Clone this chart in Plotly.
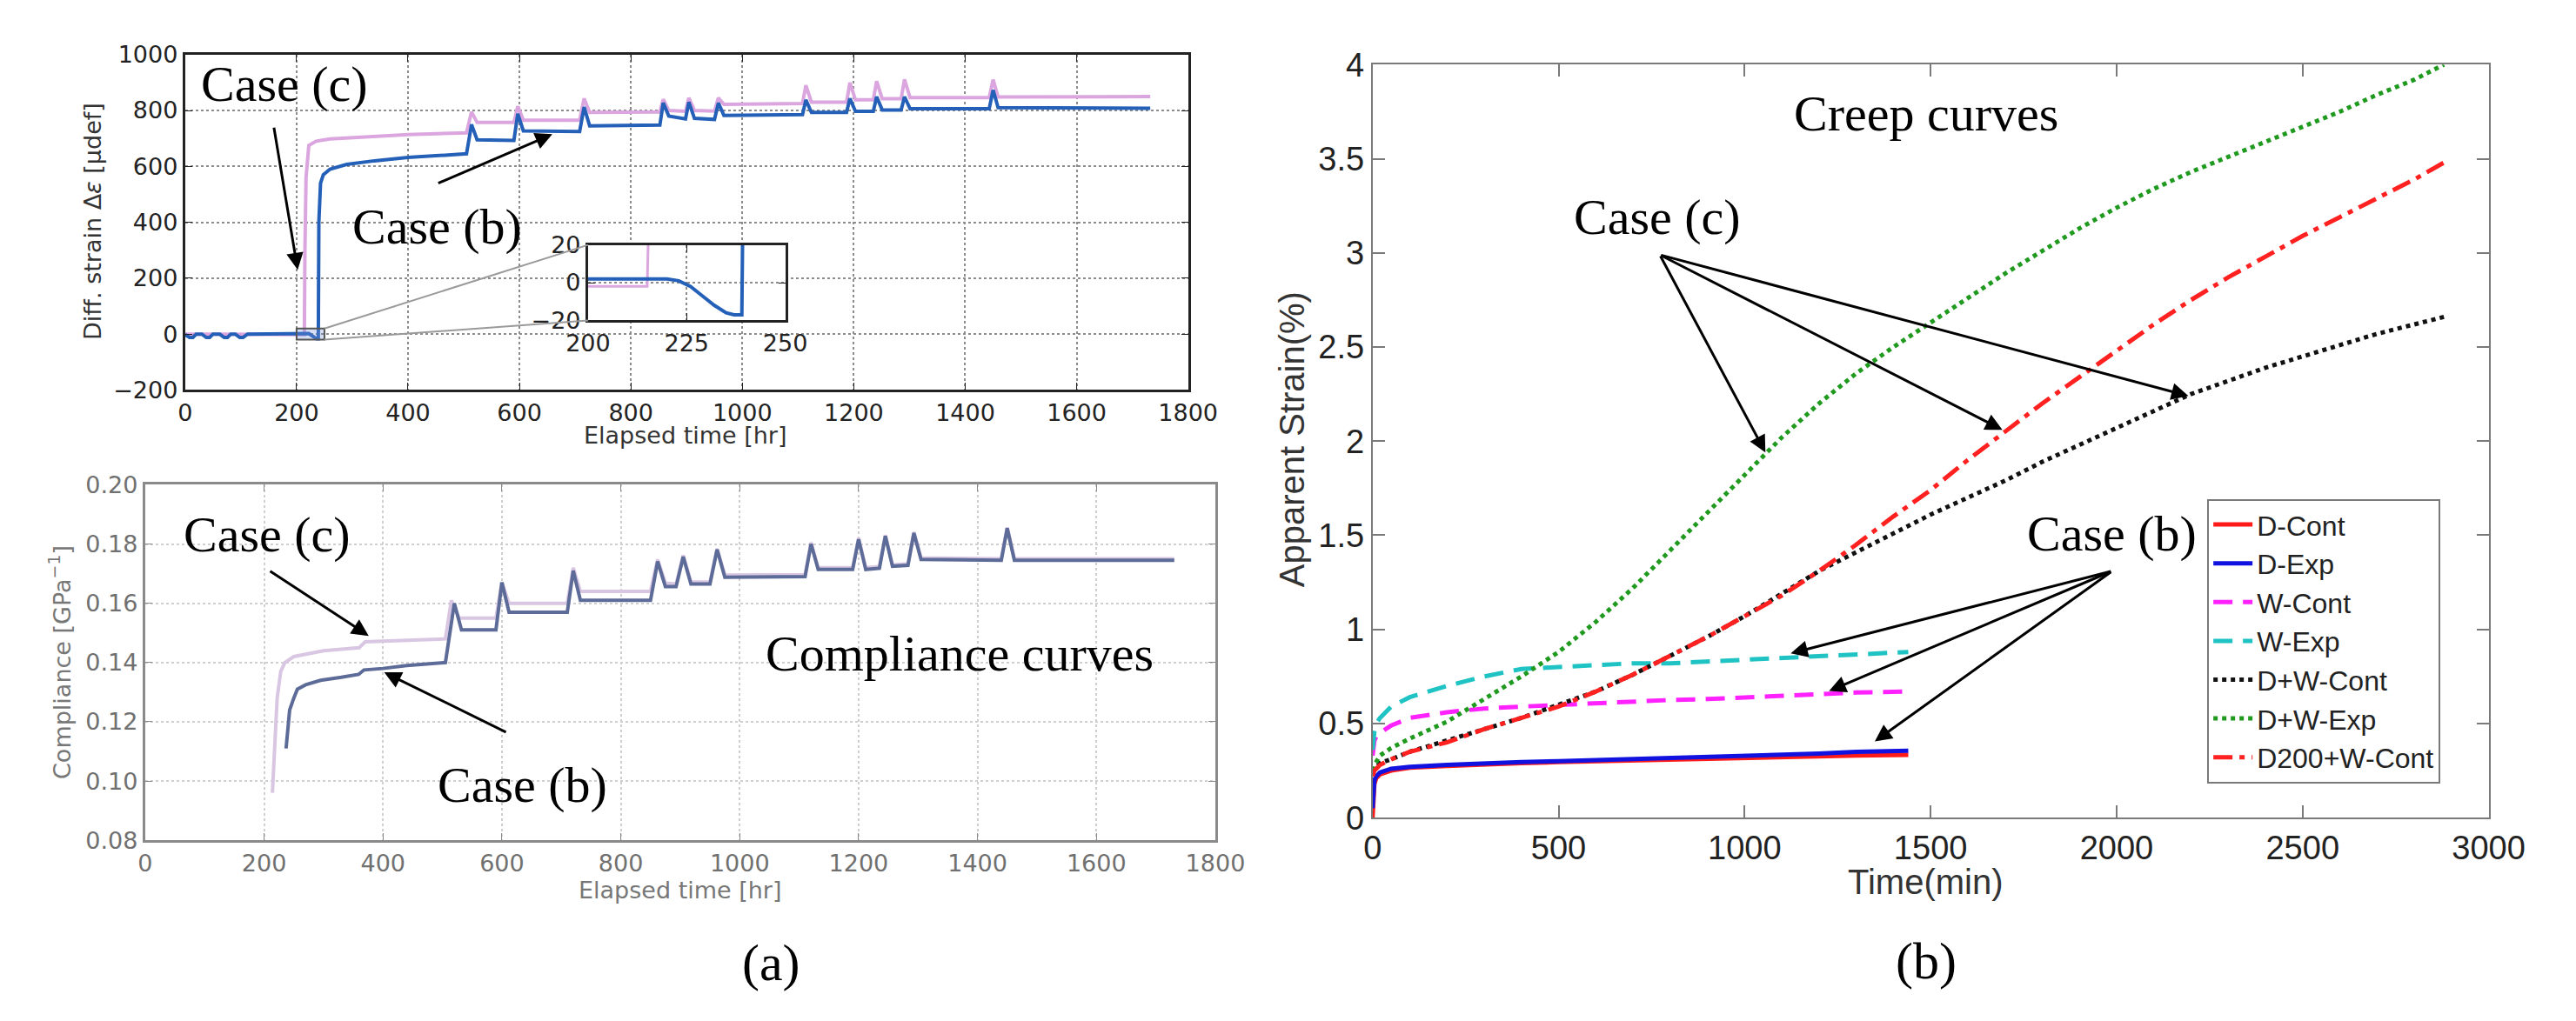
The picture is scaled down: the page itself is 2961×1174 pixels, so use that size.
import plotly.graph_objects as go

W, H = 2961, 1174

# ---------------- (a) top: differential strain vs elapsed time ----------------
strain_b_t = [0, 8, 14, 20, 30, 38, 44, 50, 62, 70, 76, 82, 90, 98, 104, 112, 222, 230, 236, 239,
              240, 243, 248, 260, 290, 340, 400, 450, 505, 514, 524, 590, 597, 607, 708, 716, 726,
              852, 858, 868, 898, 904, 914, 950, 957, 967, 1108, 1114, 1124, 1187, 1193, 1203,
              1235, 1241, 1251, 1285, 1291, 1301, 1443, 1450, 1459, 1732]
strain_b_v = [-2, -12, -12, 0, 0, -12, -12, 0, 0, -12, -12, 0, 0, -12, -12, 0, 2, -8, -17, -17,
              400, 540, 570, 590, 607, 620, 632, 638, 645, 750, 695, 693, 788, 727, 725, 812, 745,
              748, 827, 780, 770, 830, 772, 768, 827, 782, 785, 838, 793, 793, 843, 797,
              797, 849, 802, 802, 849, 806, 806, 873, 810, 808]

strain_c_t = [0, 214, 215, 217, 222, 235, 260, 300, 350, 400, 505, 514, 524, 590, 597, 607, 708,
              716, 726, 852, 858, 868, 898, 904, 914, 950, 957, 967, 1108, 1114, 1124, 1187, 1193,
              1203, 1235, 1241, 1251, 1285, 1291, 1301, 1443, 1450, 1459, 1732]
strain_c_v = [0, -2, 300, 560, 675, 690, 698, 702, 708, 714, 720, 795, 757, 757, 815, 765, 765,
              843, 793, 795, 840, 800, 797, 845, 800, 798, 845, 822, 825, 890, 830, 830, 899,
              838, 838, 905, 842, 842, 911, 846, 846, 910, 848, 850]

# inset (zoom of 200-250 hr)
inset_b_t = [200, 210, 220, 223, 226, 229, 232, 235, 237, 239, 239.2]
inset_b_v = [2, 2, 2, 1, -2, -7, -12, -16, -17, -17, 25]
inset_c_t = [200, 208, 215, 215.3]
inset_c_v = [-2, -2, -2, 25]

# ---------------- (a) bottom: compliance vs elapsed time ----------------
comp_b_t = [237, 240, 243, 250, 256, 270, 295, 330, 359, 368, 400, 440, 505, 520, 532, 590, 600,
            612, 710, 720, 732, 850, 862, 875, 893, 905, 918, 950, 962, 975, 1110, 1120, 1132,
            1190, 1200, 1212, 1235, 1245, 1257, 1283, 1293, 1305, 1440, 1450, 1462, 1731]
comp_b_v = [0.111, 0.118, 0.124, 0.128, 0.131, 0.1325, 0.134, 0.135, 0.136, 0.1375, 0.138, 0.139,
            0.140, 0.160, 0.151, 0.151, 0.167, 0.157, 0.157, 0.171, 0.161, 0.161, 0.1741, 0.1656,
            0.1656, 0.1757, 0.1665, 0.1665, 0.1781, 0.1688, 0.1690, 0.180, 0.1714, 0.1714, 0.1816,
            0.1714, 0.1718, 0.1827, 0.1725, 0.1728, 0.1837, 0.1748, 0.1745, 0.1853, 0.1745, 0.1745]

comp_c_t = [214, 218, 222, 228, 235, 250, 300, 360, 370, 505, 515, 528, 590, 600, 612, 710, 720,
            732, 850, 862, 875, 893, 905, 918, 950, 962, 975, 1110, 1120, 1132, 1190, 1200, 1212,
            1235, 1245, 1257, 1283, 1293, 1305, 1440, 1450, 1462, 1731]
comp_c_v = [0.096, 0.110, 0.128, 0.137, 0.140, 0.142, 0.144, 0.145, 0.147, 0.148, 0.161, 0.155,
            0.155, 0.167, 0.160, 0.160, 0.172, 0.164, 0.164, 0.1748, 0.1668, 0.1665, 0.1762,
            0.1672, 0.1672, 0.1784, 0.1695, 0.1697, 0.1805, 0.1720, 0.1720, 0.1820, 0.1720,
            0.1724, 0.1830, 0.1730, 0.1733, 0.1840, 0.1753, 0.1750, 0.1856, 0.1750, 0.1750]

# ---------------- (b) creep curves ----------------
t_short = [0, 2, 5, 10, 20, 50, 100, 200, 300, 400, 500, 600, 700, 800, 900, 1000, 1100, 1200,
           1300, 1440]
d_cont = [0.0, 0.12, 0.18, 0.21, 0.23, 0.25, 0.265, 0.275, 0.285, 0.29, 0.295, 0.30, 0.305, 0.31,
          0.315, 0.32, 0.323, 0.327, 0.33, 0.333]
d_exp = [0.05, 0.15, 0.20, 0.22, 0.24, 0.26, 0.27, 0.28, 0.29, 0.295, 0.30, 0.305, 0.31, 0.315,
         0.32, 0.325, 0.33, 0.34, 0.35, 0.355]
w_cont = [0.33, 0.38, 0.41, 0.43, 0.45, 0.49, 0.53, 0.56, 0.58, 0.59, 0.60, 0.61, 0.62, 0.625,
          0.63, 0.64, 0.65, 0.66, 0.665, 0.67]
w_exp = [0.36, 0.42, 0.46, 0.50, 0.53, 0.59, 0.64, 0.70, 0.75, 0.79, 0.80, 0.81, 0.82, 0.82, 0.83,
         0.84, 0.85, 0.86, 0.87, 0.88]

t_long = [0, 5, 20, 50, 100, 200, 300, 400, 500, 600, 700, 800, 900, 1000, 1100, 1200, 1300,
          1400, 1500, 1600, 1700, 1800, 1900, 2000, 2100, 2200, 2300, 2400, 2500, 2600, 2700,
          2800, 2880]
dw_cont = [0.24, 0.26, 0.29, 0.31, 0.35, 0.41, 0.47, 0.53, 0.60, 0.67, 0.76, 0.86, 0.96, 1.07,
           1.19, 1.31, 1.41, 1.51, 1.61, 1.70, 1.79, 1.89, 1.98, 2.07, 2.16, 2.25, 2.32, 2.39,
           2.45, 2.51, 2.57, 2.62, 2.66]
dw_exp = [0.25, 0.28, 0.33, 0.37, 0.42, 0.51, 0.63, 0.75, 0.88, 1.04, 1.22, 1.42, 1.62, 1.82,
          2.02, 2.20, 2.36, 2.50, 2.63, 2.76, 2.89, 3.01, 3.13, 3.24, 3.34, 3.43, 3.51, 3.59,
          3.67, 3.75, 3.84, 3.92, 4.00]
d200w_cont = [0.22, 0.25, 0.28, 0.31, 0.35, 0.40, 0.47, 0.53, 0.59, 0.67, 0.76, 0.86, 0.96, 1.07,
              1.18, 1.31, 1.45, 1.60, 1.74, 1.90, 2.05, 2.20, 2.34, 2.48, 2.62, 2.75, 2.87, 2.98,
              3.09, 3.19, 3.29, 3.39, 3.48]

creep_names = ["D-Cont", "D-Exp", "W-Cont", "W-Exp", "D+W-Cont", "D+W-Exp", "D200+W-Cont"]


def px_x(p):
    return p / W


def px_y(p):
    return 1 - p / H


TOP_X, TOP_Y = [px_x(183), px_x(1363)], [px_y(435), px_y(35)]
INS_X, INS_Y = [px_x(657), px_x(889)], [px_y(352), px_y(262)]
BOT_X, BOT_Y = [px_x(136), px_x(1395)], [px_y(972), px_y(548)]
RGT_X, RGT_Y = [px_x(1580), px_x(2893)], [px_y(945), px_y(47)]

MPL = "DejaVu Sans"
ARIAL = "Liberation Sans"
TIMES = "Liberation Serif"

fig = go.Figure()

# top panel
fig.add_trace(go.Scatter(x=strain_c_t, y=strain_c_v, mode="lines", xaxis="x", yaxis="y",
                         line=dict(color="#dba6df", width=4), showlegend=False))
fig.add_trace(go.Scatter(x=strain_b_t, y=strain_b_v, mode="lines", xaxis="x", yaxis="y",
                         line=dict(color="#2460b8", width=4), showlegend=False))
# inset
fig.add_trace(go.Scatter(x=inset_c_t, y=inset_c_v, mode="lines", xaxis="x2", yaxis="y2",
                         line=dict(color="#dba6df", width=3), showlegend=False))
fig.add_trace(go.Scatter(x=inset_b_t, y=inset_b_v, mode="lines", xaxis="x2", yaxis="y2",
                         line=dict(color="#2460b8", width=4), showlegend=False))
# bottom panel
fig.add_trace(go.Scatter(x=comp_c_t, y=comp_c_v, mode="lines", xaxis="x3", yaxis="y3",
                         line=dict(color="#d8c6e2", width=4), showlegend=False))
fig.add_trace(go.Scatter(x=comp_b_t, y=comp_b_v, mode="lines", xaxis="x3", yaxis="y3",
                         line=dict(color="#5d6b98", width=4), showlegend=False))

# creep curves
creep = [
    (t_short, d_cont, "#ff1a1a", "solid"),
    (t_short, d_exp, "#1212e0", "solid"),
    (t_short, w_cont, "#ff22ff", "22px,12px"),
    (t_short, w_exp, "#1fc3c3", "22px,12px"),
    (t_long, dw_cont, "#111111", "dot"),
    (t_long, dw_exp, "#1f9a1f", "dot"),
    (t_long, d200w_cont, "#ff2020", "22px,8px,6px,8px"),
]
for name, (tx, vy, col, dash) in zip(creep_names, creep):
    fig.add_trace(go.Scatter(x=tx, y=vy, mode="lines", name=name, xaxis="x4", yaxis="y4",
                             line=dict(color=col, width=5, dash=dash)))

grid_top = dict(showgrid=True, gridcolor="#8c8c8c", griddash="dot", gridwidth=2,
                showline=True, linecolor="#222", linewidth=3, mirror="ticks",
                ticks="inside", ticklen=8, tickcolor="#222", zeroline=False,
                tickfont=dict(family=MPL, size=27, color="#222"))
grid_bot = dict(showgrid=True, gridcolor="#cfcfcf", griddash="dot", gridwidth=2,
                showline=True, linecolor="#8a8a8a", linewidth=3, mirror="ticks",
                ticks="inside", ticklen=8, tickcolor="#8a8a8a", zeroline=False,
                tickfont=dict(family=MPL, size=27, color="#707070"))
box_rgt = dict(showgrid=False, showline=True, linecolor="#7a7a7a", linewidth=2,
               mirror="ticks", ticks="inside", ticklen=14, tickwidth=2, tickcolor="#7a7a7a",
               zeroline=False, tickfont=dict(family=ARIAL, size=38, color="#222"))

fig.update_layout(
    width=W, height=H, autosize=False,
    margin=dict(l=0, r=0, t=0, b=0),
    paper_bgcolor="white", plot_bgcolor="white",
    xaxis=dict(domain=TOP_X, anchor="y", range=[0, 1800],
               tickvals=list(range(0, 1801, 200)), **grid_top),
    yaxis=dict(domain=TOP_Y, anchor="x", range=[-200, 1000],
               tickvals=list(range(-200, 1001, 200)), **grid_top),
    xaxis2=dict(domain=INS_X, anchor="y2", range=[200, 250], tickvals=[200, 225, 250],
                **grid_top),
    yaxis2=dict(domain=INS_Y, anchor="x2", range=[-20, 20], tickvals=[-20, 0, 20],
                **grid_top),
    xaxis3=dict(domain=BOT_X, anchor="y3", range=[0, 1800],
                tickvals=list(range(0, 1801, 200)), **grid_bot),
    yaxis3=dict(domain=BOT_Y, anchor="x3", range=[0.08, 0.20], tickformat=".2f",
                tickvals=[0.08, 0.10, 0.12, 0.14, 0.16, 0.18, 0.20], **grid_bot),
    xaxis4=dict(domain=RGT_X, anchor="y4", range=[0, 3000], dtick=500, **box_rgt),
    yaxis4=dict(domain=RGT_Y, anchor="x4", range=[0, 4], dtick=0.5, **box_rgt),
    legend=dict(x=px_x(2562), y=px_y(565), xanchor="left", yanchor="top",
                bgcolor="white", bordercolor="#7a7a7a", borderwidth=2,
                font=dict(family=ARIAL, size=32, color="#222"), tracegroupgap=0,
                itemwidth=45),
    showlegend=True,
)


# zoom marker and connector lines for the inset
def paper_to_top(xp, yp):
    t = (xp - TOP_X[0]) / (TOP_X[1] - TOP_X[0]) * 1800
    v = -200 + (yp - TOP_Y[0]) / (TOP_Y[1] - TOP_Y[0]) * 1200
    return t, v


c_top = paper_to_top(INS_X[0], INS_Y[1])
c_bot = paper_to_top(INS_X[0], INS_Y[0])
fig.add_shape(type="rect", xref="x", yref="y", x0=200, x1=250, y0=-20, y1=20,
              line=dict(color="#555", width=2), fillcolor="rgba(120,150,220,0.3)")
fig.add_shape(type="line", xref="x", yref="y", x0=250, y0=20, x1=c_top[0], y1=c_top[1],
              line=dict(color="#9a9a9a", width=2))
fig.add_shape(type="line", xref="x", yref="y", x0=250, y0=-20, x1=c_bot[0], y1=c_bot[1],
              line=dict(color="#9a9a9a", width=2))


def label(text, x, y, xref, yref, size=58, family=TIMES, color="black", angle=0):
    fig.add_annotation(text=text, x=x, y=y, xref=xref, yref=yref, showarrow=False,
                       textangle=angle, xanchor="center", yanchor="middle",
                       font=dict(family=family, size=size, color=color))


def arrow(x, y, ax, ay, xa, ya):
    fig.add_annotation(text="", x=x, y=y, ax=ax, ay=ay, xref=xa, yref=ya, axref=xa, ayref=ya,
                       showarrow=True, arrowhead=2, arrowsize=1.3, arrowwidth=3,
                       arrowcolor="black", standoff=0, startstandoff=0)


# top panel texts
label("Case (c)", 179, 895, "x", "y")
label("Case (b)", 452, 385, "x", "y")
arrow(202, 230, 159, 743, "x", "y")
arrow(659, 715, 452, 538, "x", "y")
label("Diff. strain Δ<i>ε</i> [μdef]", px_x(74), px_y(234), "paper", "paper",
      size=27, family=MPL, color="#333", angle=-90)
label("Elapsed time [hr]", px_x(772), px_y(489), "paper", "paper",
      size=27, family=MPL, color="#333")

# bottom panel texts
label("Case (c)", 205, 0.1833, "x3", "y3")
label("Case (b)", 635, 0.0987, "x3", "y3")
label("Compliance curves", 1370, 0.1431, "x3", "y3")
arrow(376, 0.149, 208, 0.1711, "x3", "y3")
arrow(402, 0.1367, 609, 0.1163, "x3", "y3")
label("Compliance [GPa<sup>−1</sup>]", px_x(36), px_y(760), "paper", "paper",
      size=27, family=MPL, color="#777", angle=-90)
label("Elapsed time [hr]", px_x(766), px_y(1031), "paper", "paper",
      size=27, family=MPL, color="#777")
label("(a)", px_x(873), px_y(1118), "paper", "paper", size=60)

# creep panel texts
label("Creep curves", 1487, 3.74, "x4", "y4")
label("Case (c)", 765, 3.19, "x4", "y4")
label("Case (b)", 1988, 1.51, "x4", "y4")
for hx, hy in [(1056, 1.94), (1693, 2.06), (2193, 2.24)]:
    arrow(hx, hy, 772, 2.99, "x4", "y4")
for hx, hy in [(1124, 0.873), (1227, 0.673), (1350, 0.405)]:
    arrow(hx, hy, 1988, 1.31, "x4", "y4")
label("Apparent Strain(%)", px_x(1485), px_y(494), "paper", "paper",
      size=40, family=ARIAL, color="#333", angle=-90)
label("Time(min)", px_x(2231), px_y(1022), "paper", "paper",
      size=40, family=ARIAL, color="#333")
label("(b)", px_x(2231), px_y(1116), "paper", "paper", size=60)

fig.write_html("out.html")
